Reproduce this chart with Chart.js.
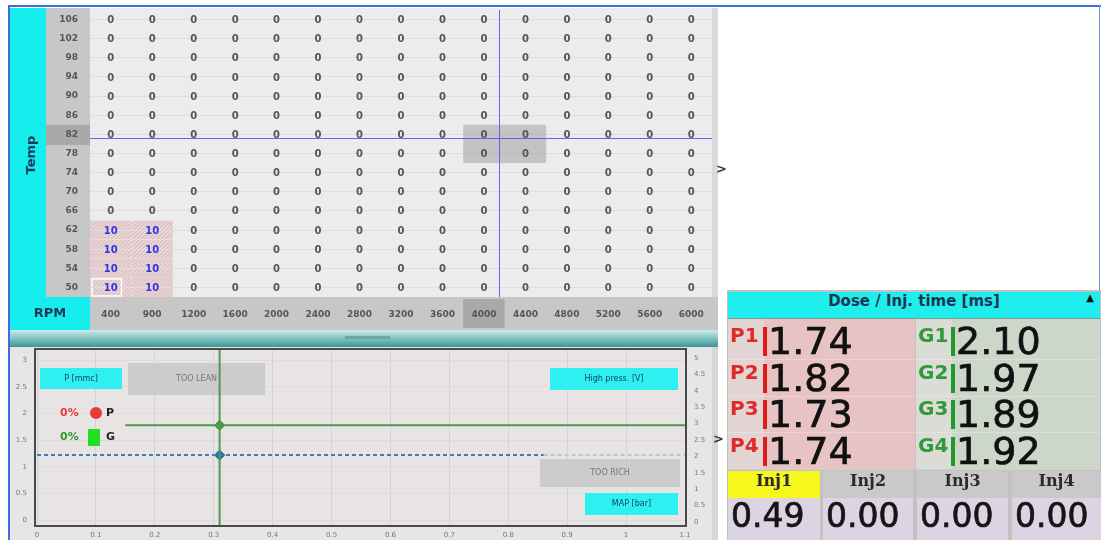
<!DOCTYPE html>
<html>
<head>
<meta charset="utf-8">
<script src="https://cdn.jsdelivr.net/npm/chart.js@4.4.0/dist/chart.umd.min.js"></script>
<style>
  body { margin: 0; width: 1101px; height: 540px; overflow: hidden; position: relative; background: #fff; font-family: "DejaVu Sans", sans-serif; }
  .abs { position: absolute; }
  #lineTop { left: 8px; top: 5px; width: 1093px; height: 2px; background: #3d6fd9; }
  #lineLeft { left: 8px; top: 5px; width: 2px; height: 535px; background: #3d6fd9; }
  #lineRight { left: 1099px; top: 5px; width: 1px; height: 285px; background: #6d8fe0; }
  #mapBox { left: 10px; top: 8px; width: 708px; height: 322px; }
  #split { left: 10px; top: 330px; width: 708px; height: 17px; background: linear-gradient(#cdeaea, #8fcaca 40%, #3c9595); }
  #grip { left: 345px; top: 336px; width: 45px; height: 3px; background: #6aa7a7; }
  #plotBox { left: 10px; top: 347px; width: 708px; height: 193px; }
  .arrow { font: bold 13px "DejaVu Sans"; color: #333; }
  #dose { left: 727px; top: 290px; width: 374px; height: 250px; background: #c2c2c2; }
  #doseHead { left: 1px; top: 2px; width: 372px; height: 26px; line-height: 26px; background: #1eeeee; border-bottom: 1px solid #7a9a9a;
              text-align: center; font: bold 15px "DejaVu Sans"; color: #1c3550; }
  #doseHead span { position: absolute; right: 6px; top: 0; font-size: 10px; color: #111; }
  .half { top: 29px; height: 150px; }
  .lab { position: absolute; left: 0; top: 0; width: 36px; height: 150px; }
  .row { position: absolute; left: 0; height: 36px; width: 100%; border-bottom: 1px solid rgba(255,255,255,0.25); }
  .row .t { position: absolute; left: 2px; top: 0; line-height: 36px; font: bold 20px "DejaVu Sans"; }
  .row .bar { position: absolute; left: 35px; top: 4px; width: 4px; height: 29px; }
  .row .v { position: absolute; left: 40px; top: 0; line-height: 36px; font-size: 38px; color: #111; -webkit-text-stroke: 0.7px #111; }
  .injH { top: 181px; height: 27px; line-height: 27px; text-align: center; font: bold 16px "DejaVu Serif"; color: #2a2a2a; }
  .injV { top: 208px; height: 42px; line-height: 36px; background: #dcd3e3; font-size: 33px; color: #151515; padding-left: 3px; box-sizing: border-box; -webkit-text-stroke: 0.7px #151515; }
</style>
</head>
<body>
<div id="lineTop" class="abs"></div>
<div id="lineLeft" class="abs"></div>
<div id="lineRight" class="abs"></div>
<div id="mapBox" class="abs"><canvas id="mapChart" width="708" height="322"></canvas></div>
<div id="split" class="abs"></div>
<div id="grip" class="abs"></div>
<div id="plotBox" class="abs"><canvas id="plotChart" width="708" height="193"></canvas></div>
<div class="abs arrow" style="left:716px; top:161px;">&gt;</div>
<div class="abs arrow" style="left:713px; top:431px;">&gt;</div>
<div id="dose" class="abs">
  <div id="doseHead" class="abs">Dose / Inj. time [ms]<span>▲</span></div>
</div>
<script>
// ---- mapa de temperatura / rpm ----
const rpmLabels = ['400', '900', '1200', '1600', '2000', '2400', '2800', '3200', '3600', '4000', '4400', '4800', '5200', '5600', '6000'];
const tempLabels = [106, 102, 98, 94, 90, 86, 82, 78, 74, 70, 66, 62, 58, 54, 50];
const mapRows = [
  [0, 0, 0, 0, 0, 0, 0, 0, 0, 0, 0, 0, 0, 0, 0],
  [0, 0, 0, 0, 0, 0, 0, 0, 0, 0, 0, 0, 0, 0, 0],
  [0, 0, 0, 0, 0, 0, 0, 0, 0, 0, 0, 0, 0, 0, 0],
  [0, 0, 0, 0, 0, 0, 0, 0, 0, 0, 0, 0, 0, 0, 0],
  [0, 0, 0, 0, 0, 0, 0, 0, 0, 0, 0, 0, 0, 0, 0],
  [0, 0, 0, 0, 0, 0, 0, 0, 0, 0, 0, 0, 0, 0, 0],
  [0, 0, 0, 0, 0, 0, 0, 0, 0, 0, 0, 0, 0, 0, 0],
  [0, 0, 0, 0, 0, 0, 0, 0, 0, 0, 0, 0, 0, 0, 0],
  [0, 0, 0, 0, 0, 0, 0, 0, 0, 0, 0, 0, 0, 0, 0],
  [0, 0, 0, 0, 0, 0, 0, 0, 0, 0, 0, 0, 0, 0, 0],
  [0, 0, 0, 0, 0, 0, 0, 0, 0, 0, 0, 0, 0, 0, 0],
  [10, 10, 0, 0, 0, 0, 0, 0, 0, 0, 0, 0, 0, 0, 0],
  [10, 10, 0, 0, 0, 0, 0, 0, 0, 0, 0, 0, 0, 0, 0],
  [10, 10, 0, 0, 0, 0, 0, 0, 0, 0, 0, 0, 0, 0, 0],
  [10, 10, 0, 0, 0, 0, 0, 0, 0, 0, 0, 0, 0, 0, 0]
];
const cursorRpm = [9.36];      // posición del cursor (índice de columna)
const cursorTemp = [81.2];
const activeRpm = ['4000', '4400'];
const activeTemp = [82, 78];
const editedCell = ['400', 50];

// ---- gráfico inferior ----
const xTicks = [0, 0.1, 0.2, 0.3, 0.4, 0.5, 0.6, 0.7, 0.8, 0.9, 1, 1.1];
const leftTicks = [0, 0.5, 1, 1.5, 2, 2.5, 3];
const rightTicks = [0, 0.5, 1, 1.5, 2, 2.5, 3, 3.5, 4, 4.5, 5];
const gasLineX = [0.15, 1.1];
const gasLineY = [1.78, 1.78];
const petrolLineX = [0, 0.86];
const petrolTailX = [0.86, 1.1];
const petrolLineY = [1.22, 1.22];
const cursorLineX = [0.31, 0.31];
const cursorLineY = [-0.11, 3.21];
const markerX = [0.31, 0.31];
const markerY = [1.78, 1.22];

// ---- panel de dosis ----
const petrolNames = ['P1', 'P2', 'P3', 'P4'];
const petrolTimes = ['1.74', '1.82', '1.73', '1.74'];
const gasNames = ['G1', 'G2', 'G3', 'G4'];
const gasTimes = ['2.10', '1.97', '1.89', '1.92'];
const injLabels = ['Inj1', 'Inj2', 'Inj3', 'Inj4'];
const injValues = ['0.49', '0.00', '0.00', '0.00'];

Chart.defaults.font.family = '"DejaVu Sans", sans-serif';
Chart.defaults.animation = false;

// sin relleno automático de las escalas: el área queda donde se pide
const noPad = s => { s.paddingTop = 0; s.paddingBottom = 0; s.paddingLeft = 0; s.paddingRight = 0; };

// puntos del mapa a partir de las filas
const mapPoints = [];
mapRows.forEach((row, r) => row.forEach((v, c) => mapPoints.push({ x: c, y: tempLabels[r], v: v })));

const mapPaint = {
  id: 'mapPaint',
  beforeDraw(chart) {
    const { ctx, chartArea: a, scales: { x, y } } = chart;
    const cw = x.getPixelForValue(1) - x.getPixelForValue(0);
    const ch = y.getPixelForValue(tempLabels[1]) - y.getPixelForValue(tempLabels[0]);
    ctx.save();
    ctx.fillStyle = '#ececec';
    ctx.fillRect(0, 0, chart.width, chart.height);
    // columna cian y columna gris de etiquetas
    ctx.fillStyle = '#16eded';
    ctx.fillRect(0, 0, 36, chart.height);
    ctx.fillStyle = '#c7c7c7';
    ctx.fillRect(36, 0, a.left - 36, a.bottom);
    ctx.fillRect(a.left, a.bottom, chart.width - a.left, chart.height - a.bottom);
    ctx.fillStyle = '#16eded';
    ctx.fillRect(0, a.bottom, a.left, chart.height - a.bottom);
    ctx.fillStyle = '#d9d9d9';
    ctx.fillRect(a.right, 0, chart.width - a.right, a.bottom);
    // fila y columna activas
    ctx.fillStyle = '#a9a9a9';
    const ry = y.getPixelForValue(activeTemp[0]);
    ctx.fillRect(36, ry - ch / 2, a.left - 36, ch + 1);
    const cx = x.getPixelForValue(rpmLabels.indexOf(activeRpm[0]));
    ctx.fillRect(cx - cw / 2, a.bottom + 2, cw, chart.height - a.bottom - 4);
    // celdas modificadas (rayadas)
    mapPoints.forEach(p => {
      if (!p.v) return;
      const px = x.getPixelForValue(p.x) - cw / 2, py = y.getPixelForValue(p.y) - ch / 2;
      ctx.save();
      ctx.beginPath();
      ctx.rect(px, py, cw, ch);
      ctx.clip();
      ctx.fillStyle = '#e8d3d5';
      ctx.fillRect(px, py, cw, ch);
      ctx.strokeStyle = 'rgba(180,130,140,0.35)';
      ctx.lineWidth = 1;
      for (let k = -ch; k < cw; k += 4) {
        ctx.beginPath();
        ctx.moveTo(px + k, py + ch);
        ctx.lineTo(px + k + ch, py);
        ctx.stroke();
      }
      ctx.restore();
    });
    // celda editada
    const ex = x.getPixelForValue(rpmLabels.indexOf(editedCell[0])) - cw / 2;
    const ey = y.getPixelForValue(editedCell[1]) - ch / 2;
    ctx.strokeStyle = '#ffffff';
    ctx.lineWidth = 1.5;
    ctx.strokeRect(ex + 2, ey + 1, cw - 12, ch - 2);
    // títulos
    ctx.fillStyle = '#1a3a5a';
    ctx.font = 'bold 13px "DejaVu Sans"';
    ctx.textAlign = 'center';
    ctx.textBaseline = 'middle';
    ctx.fillText('RPM', a.left / 2, 306);
    ctx.translate(22, 147);
    ctx.rotate(-Math.PI / 2);
    ctx.fillText('Temp', 0, 0);
    ctx.restore();
  },
  afterDatasetsDraw(chart) {
    const { ctx, chartArea: a, scales: { x, y } } = chart;
    const cw = x.getPixelForValue(1) - x.getPixelForValue(0);
    const ch = y.getPixelForValue(tempLabels[1]) - y.getPixelForValue(tempLabels[0]);
    ctx.save();
    // zona de interpolación
    const i0 = rpmLabels.indexOf(activeRpm[0]), i1 = rpmLabels.indexOf(activeRpm[1]);
    const bx0 = x.getPixelForValue(i0) - cw / 2, bx1 = x.getPixelForValue(i1) + cw / 2;
    const by0 = y.getPixelForValue(activeTemp[0]) - ch / 2, by1 = y.getPixelForValue(activeTemp[1]) + ch / 2;
    ctx.fillStyle = 'rgba(120,120,120,0.35)';
    ctx.fillRect(bx0, by0, bx1 - bx0, by1 - by0);
    // cursor
    ctx.strokeStyle = '#6464e6';
    ctx.lineWidth = 1;
    const lx = Math.round(x.getPixelForValue(cursorRpm[0])) + 0.5;
    const ly = Math.round(y.getPixelForValue(cursorTemp[0])) + 0.5;
    ctx.beginPath();
    ctx.moveTo(lx, a.top); ctx.lineTo(lx, a.bottom);
    ctx.moveTo(a.left, ly); ctx.lineTo(a.right, ly);
    ctx.stroke();
    // valores
    ctx.font = 'bold 10px "DejaVu Sans"';
    ctx.textAlign = 'center';
    ctx.textBaseline = 'middle';
    mapPoints.forEach(p => {
      ctx.fillStyle = p.v ? '#3535e0' : '#555555';
      ctx.fillText(String(p.v), x.getPixelForValue(p.x), y.getPixelForValue(p.y) + 1);
    });
    ctx.restore();
  }
};

new Chart(document.getElementById('mapChart'), {
  type: 'scatter',
  data: { datasets: [{ data: mapPoints, pointRadius: 0, pointHoverRadius: 0 }] },
  options: {
    responsive: false,
    layout: { autoPadding: false, padding: { top: 2, right: 6, bottom: 0, left: 0 } },
    plugins: { legend: { display: false }, tooltip: { enabled: false } },
    scales: {
      x: {
        type: 'linear', min: -0.5, max: rpmLabels.length - 0.5,
        afterBuildTicks: s => { s.ticks = rpmLabels.map((_, i) => ({ value: i })); },
        afterFit: s => { s.height = 33; noPad(s); },
        ticks: { callback: v => rpmLabels[v], color: '#555', font: { size: 9, weight: 'bold' }, padding: 12, maxRotation: 0, autoSkip: false },
        grid: { display: false, drawTicks: false },
        border: { display: false }
      },
      y: {
        type: 'linear', min: 48, max: 108,
        afterBuildTicks: s => { s.ticks = tempLabels.map(v => ({ value: v })); },
        afterFit: s => { s.width = 80; noPad(s); },
        ticks: { color: '#555', font: { size: 9, weight: 'bold' }, padding: 12, autoSkip: false },
        grid: { color: '#dedede', drawTicks: false },
        border: { display: false }
      }
    }
  },
  plugins: [mapPaint]
});

// ---- gráfico de presión ----
function box(ctx, x, y, w, h, fill, text, color) {
  ctx.fillStyle = fill;
  ctx.fillRect(x, y, w, h);
  ctx.fillStyle = color;
  ctx.font = '8px "DejaVu Sans"';
  ctx.textAlign = 'center';
  ctx.textBaseline = 'middle';
  ctx.fillText(text, x + w / 2, y + h / 2);
}

const plotPaint = {
  id: 'plotPaint',
  beforeDraw(chart) {
    const { ctx, chartArea: a } = chart;
    ctx.save();
    ctx.fillStyle = '#e6e6e6';
    ctx.fillRect(0, 0, chart.width, chart.height);
    ctx.fillStyle = '#e9e4e4';
    ctx.fillRect(a.left, a.top, a.right - a.left, a.bottom - a.top);
    ctx.fillStyle = '#d6d6d6';
    ctx.fillRect(chart.width - 6, 0, 6, chart.height);
    ctx.restore();
  },
  beforeDatasetsDraw(chart) {
    const { ctx } = chart;
    ctx.save();
    box(ctx, 30, 21, 82, 21, '#2ef0f0', 'P [mmc]', '#1a3a5a');
    box(ctx, 118, 16, 137, 32, 'rgba(200,200,200,0.85)', 'TOO LEAN', '#777');
    box(ctx, 540, 21, 128, 22, '#2ef0f0', 'High press. [V]', '#1a3a5a');
    box(ctx, 530, 112, 140, 28, 'rgba(200,200,200,0.85)', 'TOO RICH', '#777');
    box(ctx, 575, 146, 93, 22, '#2ef0f0', 'MAP [bar]', '#1a3a5a');
    // leyenda
    ctx.font = 'bold 11px "DejaVu Sans"';
    ctx.textBaseline = 'middle';
    ctx.textAlign = 'left';
    ctx.fillStyle = '#e83a3a';
    ctx.fillText('0%', 50, 66);
    ctx.beginPath();
    ctx.arc(86, 66, 6, 0, Math.PI * 2);
    ctx.fill();
    ctx.fillStyle = '#2e9a2e';
    ctx.fillText('0%', 50, 90);
    ctx.fillStyle = '#22dd22';
    ctx.fillRect(78, 82, 12, 17);
    ctx.fillStyle = '#222';
    ctx.fillText('P', 96, 66);
    ctx.fillText('G', 96, 90);
    ctx.restore();
  },
  afterDraw(chart) {
    const { ctx, chartArea: a } = chart;
    ctx.save();
    ctx.strokeStyle = '#4a4a4a';
    ctx.lineWidth = 2;
    ctx.strokeRect(a.left - 2, a.top, a.right - a.left + 3, a.bottom - a.top);
    ctx.restore();
  }
};

const pts = (xs, ys) => xs.map((v, i) => ({ x: v, y: ys[i] }));

new Chart(document.getElementById('plotChart'), {
  type: 'scatter',
  data: {
    datasets: [
      { data: pts(cursorLineX, cursorLineY), showLine: true, borderColor: '#4f9a4f', borderWidth: 2, pointRadius: 0 },
      { data: pts(gasLineX, gasLineY), showLine: true, borderColor: '#4f9a4f', borderWidth: 2, pointRadius: 0 },
      { data: pts(petrolLineX, petrolLineY), showLine: true, borderColor: '#3b7bcc', borderWidth: 2, borderDash: [4, 3], pointRadius: 0 },
      { data: pts(petrolTailX, petrolLineY), showLine: true, borderColor: '#b3c8dc', borderWidth: 2, borderDash: [4, 3], pointRadius: 0 },
      { data: [{ x: markerX[0], y: markerY[0] }], pointStyle: 'rectRot', pointRadius: 5, backgroundColor: '#3fae3f', borderColor: '#2b6e2b', borderWidth: 1 },
      { data: [{ x: markerX[1], y: markerY[1] }], pointStyle: 'rectRot', pointRadius: 5, backgroundColor: '#2d6fb0', borderColor: '#1d4f80', borderWidth: 1 }
    ]
  },
  options: {
    responsive: false,
    layout: { autoPadding: false, padding: { top: 2, right: 0, bottom: 0, left: 0 } },
    plugins: { legend: { display: false }, tooltip: { enabled: false } },
    scales: {
      x: {
        type: 'linear', min: 0, max: 1.1,
        afterBuildTicks: s => { s.ticks = xTicks.map(v => ({ value: v })); },
        afterFit: s => { s.height = 14; noPad(s); },
        ticks: { callback: v => String(v), color: '#777', font: { size: 7 }, padding: 5, maxRotation: 0, autoSkip: false },
        grid: { color: '#d3d3d3', drawTicks: false },
        border: { display: false }
      },
      y: {
        type: 'linear', position: 'left', min: -0.11, max: 3.21,
        afterBuildTicks: s => { s.ticks = leftTicks.map(v => ({ value: v })); },
        afterFit: s => { s.width = 27; noPad(s); },
        ticks: { callback: v => String(v), color: '#777', font: { size: 7 }, padding: 10, autoSkip: false },
        grid: { color: '#dcdcdc', drawTicks: false },
        border: { display: false }
      },
      y2: {
        type: 'linear', position: 'right', min: -0.12, max: 5.27,
        afterBuildTicks: s => { s.ticks = rightTicks.map(v => ({ value: v })); },
        afterFit: s => { s.width = 33; noPad(s); },
        ticks: { callback: v => String(v), color: '#777', font: { size: 7 }, padding: 9, autoSkip: false },
        grid: { display: false, drawTicks: false },
        border: { display: false }
      }
    }
  },
  plugins: [plotPaint]
});

// ---- panel de dosis (HTML) ----
const dose = document.getElementById('dose');
function half(left, width, bg, labBg, names, times, nameColor, barColor) {
  const h = document.createElement('div');
  h.className = 'abs half';
  h.style.left = left + 'px';
  h.style.width = width + 'px';
  h.style.background = bg;
  h.innerHTML = '<div class="lab" style="background:' + labBg + '"></div>';
  names.forEach((n, i) => {
    const r = document.createElement('div');
    r.className = 'row';
    r.style.top = (4 + i * 36.5) + 'px';
    r.innerHTML = '<span class="t" style="color:' + nameColor + '">' + n + '</span>' +
      '<span class="bar" style="background:' + barColor + '"></span>' +
      '<span class="v">' + times[i] + '</span>';
    h.appendChild(r);
  });
  dose.appendChild(h);
}
half(1, 187, '#e8c3c3', '#e3d4d4', petrolNames, petrolTimes, '#e02a2a', '#e41b1b');
half(189, 184, '#ccd7c9', '#dcdcd6', gasNames, gasTimes, '#2f9a3a', '#1f9a2a');

const injCols = [[1, 92], [96, 90], [190, 91], [285, 89]];
injLabels.forEach((lab, i) => {
  const hd = document.createElement('div');
  hd.className = 'abs injH';
  hd.style.left = injCols[i][0] + 'px';
  hd.style.width = injCols[i][1] + 'px';
  hd.style.background = i === 0 ? '#f7f71e' : '#c9c9c9';
  hd.textContent = lab;
  dose.appendChild(hd);
  const vl = document.createElement('div');
  vl.className = 'abs injV';
  vl.style.left = injCols[i][0] + 'px';
  vl.style.width = injCols[i][1] + 'px';
  vl.textContent = injValues[i];
  dose.appendChild(vl);
});
</script>
</body>
</html>
